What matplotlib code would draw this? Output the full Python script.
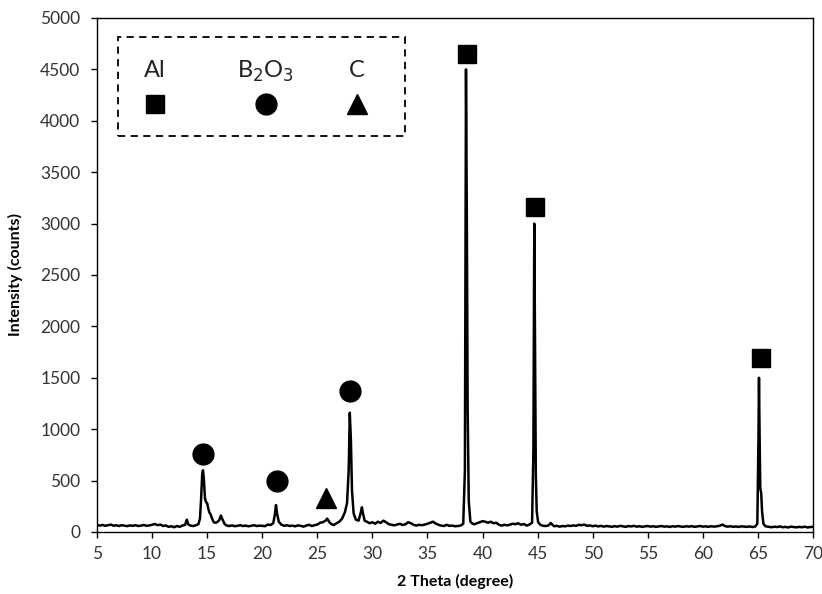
import numpy as np
import matplotlib
matplotlib.use("Agg")
import matplotlib.pyplot as plt
from matplotlib.patches import Rectangle

plt.rcParams['font.family'] = ['Lato', 'DejaVu Sans']

# XRD trace (2 theta in degrees, intensity in counts)
two_theta = [
    5.0, 5.25, 5.5, 5.75, 6.0, 6.25, 6.5, 6.75, 7.0, 7.25, 7.5, 7.75, 8.0, 8.25, 8.5, 8.75,
    9.0, 9.25, 9.5, 9.75, 10.0, 10.25, 10.5, 10.75, 11.0, 11.25, 11.5, 11.75, 12.0, 12.25,
    12.5, 12.75, 13.0, 13.15, 13.3, 13.5, 13.75, 14.0, 14.2, 14.35, 14.45, 14.55, 14.62,
    14.7, 14.8, 14.9, 15.0, 15.1, 15.2, 15.3, 15.45, 15.6, 15.75, 15.9, 16.1, 16.25, 16.4,
    16.6, 16.8, 17.0, 17.25, 17.5, 17.75, 18.0, 18.25, 18.5, 18.75, 19.0, 19.25, 19.5,
    19.75, 20.0, 20.25, 20.5, 20.75, 21.0, 21.15, 21.25, 21.35, 21.5, 21.75, 22.0, 22.25,
    22.5, 22.75, 23.0, 23.25, 23.5, 23.75, 24.0, 24.25, 24.5, 24.75, 25.0, 25.25, 25.5,
    25.75, 25.9, 26.1, 26.3, 26.5, 26.75, 27.0, 27.25, 27.5, 27.7, 27.85, 27.95, 28.05,
    28.15, 28.3, 28.5, 28.75, 28.95, 29.05, 29.15, 29.3, 29.5, 29.75, 30.0, 30.25, 30.5,
    30.75, 31.0, 31.25, 31.5, 31.75, 32.0, 32.25, 32.5, 32.75, 33.0, 33.25, 33.5, 33.75,
    34.0, 34.25, 34.5, 34.75, 35.0, 35.25, 35.5, 35.75, 36.0, 36.25, 36.5, 36.75, 37.0,
    37.25, 37.5, 37.75, 38.0, 38.25, 38.4, 38.5, 38.58, 38.65, 38.75, 38.9, 39.1, 39.25,
    39.5, 39.75, 40.0, 40.25, 40.5, 40.75, 41.0, 41.25, 41.5, 41.75, 42.0, 42.25, 42.5,
    42.75, 43.0, 43.25, 43.5, 43.75, 44.0, 44.25, 44.5, 44.62, 44.7, 44.77, 44.84, 44.92,
    45.05, 45.25, 45.5, 45.75, 46.0, 46.2, 46.35, 46.5, 46.75, 47.0, 47.25, 47.5, 47.75,
    48.0, 48.25, 48.5, 48.75, 49.0, 49.25, 49.5, 49.75, 50.0, 50.25, 50.5, 50.75, 51.0,
    51.25, 51.5, 51.75, 52.0, 52.25, 52.5, 52.75, 53.0, 53.25, 53.5, 53.75, 54.0, 54.25,
    54.5, 54.75, 55.0, 55.25, 55.5, 55.75, 56.0, 56.25, 56.5, 56.75, 57.0, 57.25, 57.5,
    57.75, 58.0, 58.25, 58.5, 58.75, 59.0, 59.25, 59.5, 59.75, 60.0, 60.25, 60.5, 60.75,
    61.0, 61.25, 61.5, 61.8, 62.0, 62.25, 62.5, 62.75, 63.0, 63.25, 63.5, 63.75, 64.0,
    64.25, 64.5, 64.75, 64.95, 65.05, 65.1, 65.16, 65.22, 65.3, 65.38, 65.5, 65.7, 66.0,
    66.25, 66.5, 66.75, 67.0, 67.25, 67.5, 67.75, 68.0, 68.25, 68.5, 68.75, 69.0, 69.25,
    69.5, 69.75, 70.0,
]
counts = [
    70, 62, 68, 60, 66, 72, 61, 65, 58, 66, 62, 57, 64, 60, 66, 58,
    62, 68, 60, 64, 70, 78, 66, 72, 58, 64, 50, 56, 46, 58,
    50, 62, 70, 120, 72, 62, 58, 66, 75, 130, 320, 560, 600,
    520, 330, 290, 280, 230, 190, 175, 130, 95, 90, 95, 115, 160, 120,
    75, 62, 58, 64, 56, 60, 66, 58, 62, 55, 60, 66, 58,
    62, 60, 56, 72, 68, 85, 170, 262, 180, 100, 70, 60, 66,
    58, 62, 55, 64, 60, 52, 62, 70, 58, 66, 72, 90, 95,
    110, 130, 95, 75, 68, 85, 100, 130, 190, 280, 600, 1160, 900,
    400, 180, 120, 110, 190, 240, 180, 110, 100, 85, 95, 80, 100,
    88, 110, 95, 75, 70, 65, 72, 80, 68, 75, 95, 85, 70,
    62, 70, 66, 72, 80, 90, 100, 82, 70, 62, 58, 70, 60,
    62, 56, 58, 62, 80, 600, 4500, 3000, 1200, 300, 100, 80, 75,
    85, 95, 105, 100, 90, 100, 85, 90, 70, 62, 70, 64, 72,
    80, 76, 85, 70, 78, 62, 72, 90, 800, 3000, 1800, 560, 200,
    95, 70, 60, 58, 64, 88, 70, 56, 60, 52, 58, 55, 62,
    58, 64, 60, 70, 66, 72, 60, 64, 56, 62, 54, 60, 52,
    58, 55, 50, 57, 52, 60, 55, 50, 58, 54, 60, 52, 56,
    50, 55, 58, 52, 56, 50, 54, 58, 52, 55, 49, 56, 52,
    58, 53, 50, 56, 52, 57, 50, 54, 58, 52, 55, 50, 56,
    52, 55, 60, 72, 58, 52, 56, 50, 54, 49, 55, 52, 50,
    54, 48, 52, 80, 900, 1500, 900, 420, 380, 200, 80, 55, 50,
    46, 52, 48, 54, 46, 50, 44, 52, 48, 45, 50, 46, 52,
    44, 48, 50,
]

# phase markers placed above the peaks
al_x = [38.6, 44.8, 65.3]
al_y = [4650, 3160, 1690]
b2o3_x = [14.6, 21.3, 28.0]
b2o3_y = [760, 495, 1370]
c_x = [25.8]
c_y = [330]

phases = ['Al', 'B$_2$O$_3$', 'C']
phase_markers = ['s', 'o', '^']

fig = plt.figure(figsize=(8.22, 5.94), dpi=100)
ax = fig.add_axes([0.118, 0.1044, 0.871, 0.8653])

ax.plot(two_theta, counts, color='black', lw=1.8)
ax.plot(al_x, al_y, 's', color='black', ms=13, ls='none')
ax.plot(b2o3_x, b2o3_y, 'o', color='black', ms=15, ls='none')
ax.plot(c_x, c_y, '^', color='black', ms=15, ls='none')

ax.set_xlim(5, 70)
ax.set_ylim(0, 5000)
ax.set_xticks(np.arange(5, 71, 5))
ax.set_yticks(np.arange(0, 5001, 500))
ax.tick_params(axis='both', direction='out', length=4, width=1, labelsize=12.5,
               labelcolor='#333333', color='black')
ax.tick_params(axis='y', pad=8)
ax.tick_params(axis='x', pad=6)
for s in ax.spines.values():
    s.set_linewidth(1)
    s.set_color('black')

ax.set_xlabel('2 Theta (degree)', fontsize=11.5, fontweight='bold', labelpad=9)
ax.set_ylabel('Intensity (counts)', fontsize=11.5, fontweight='bold', labelpad=12)

# legend box drawn by hand, like the original
box = Rectangle((0.029, 0.770), 0.401, 0.193, transform=ax.transAxes, fill=False,
                ls=(0, (4, 3)), lw=1.3, color='black')
ax.add_patch(box)
leg_x = [0.081, 0.236, 0.363]
for lx, name, mk in zip(leg_x, phases, phase_markers):
    ax.text(lx, 0.897, name, transform=ax.transAxes, ha='center', va='center',
            fontsize=17, color='#222222')
    ms = 13 if mk == 's' else 15
    ax.plot([lx], [0.832], mk, color='black', ms=ms, transform=ax.transAxes)

fig.savefig('out.png', dpi=100)
